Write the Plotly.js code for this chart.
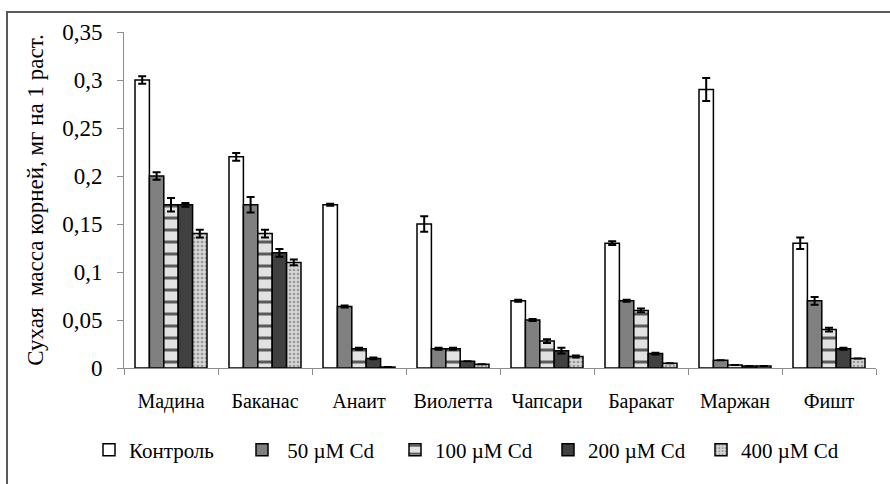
<!DOCTYPE html>
<html>
<head>
<meta charset="utf-8">
<script src="https://cdn.plot.ly/plotly-3.0.1.min.js"></script>
<style>html,body{margin:0;padding:0;background:#fff;}#chart{width:890px;height:484px;}</style>
</head>
<body>
<div id="chart"></div>
<script>
const categories = ["Мадина", "Баканас", "Анаит", "Виолетта", "Чапсари", "Баракат", "Маржан", "Фишт"];
const seriesNames = ["Контроль", " 50 µM Cd", "100 µM Cd", "200 µM Cd", "400 µM Cd"];
const control = [0.300, 0.220, 0.170, 0.150, 0.070, 0.130, 0.290, 0.130];
const cd50    = [0.200, 0.170, 0.064, 0.020, 0.050, 0.070, 0.008, 0.070];
const cd100   = [0.170, 0.140, 0.020, 0.020, 0.028, 0.060, 0.003, 0.040];
const cd200   = [0.170, 0.120, 0.010, 0.007, 0.018, 0.015, 0.002, 0.020];
const cd400   = [0.140, 0.110, 0.001, 0.004, 0.012, 0.005, 0.002, 0.010];
const errControl = [0.004, 0.004, 0.001, 0.008, 0.001, 0.002, 0.012, 0.006];
const err50      = [0.004, 0.008, 0.001, 0.001, 0.001, 0.001, 0.000, 0.004];
const err100     = [0.007, 0.004, 0.001, 0.001, 0.002, 0.002, 0.000, 0.002];
const err200     = [0.002, 0.004, 0.001, 0.000, 0.003, 0.001, 0.000, 0.001];
const err400     = [0.004, 0.003, 0.000, 0.000, 0.001, 0.000, 0.000, 0.000];
const yTickVals = [0, 0.05, 0.1, 0.15, 0.2, 0.25, 0.3, 0.35];

const serif = "Liberation Serif, Times New Roman, serif";
const values = [control, cd50, cd100, cd200, cd400];
const errs = [errControl, err50, err100, err200, err400];
const fills = [
  {color: "#ffffff"},
  {color: "#808080"},
  {color: "#d8d8d8", pattern: {shape: "-", fgcolor: "#5a5a5a", bgcolor: "#e2e2e2", size: 12, solidity: 0.25}},
  {color: "#404040"},
  {color: "#cfcfcf", pattern: {shape: ".", fgcolor: "#9a9a9a", bgcolor: "#d6d6d6", size: 4, solidity: 0.35}}
];

const traces = values.map((v, i) => ({
  type: "bar",
  name: seriesNames[i],
  x: categories,
  y: v,
  error_y: {type: "data", array: errs[i], visible: true, color: "#000", thickness: 2, width: 4},
  marker: Object.assign({line: {color: "#000", width: 1.5}}, fills[i]),
  hoverinfo: "skip"
}));

const L = 124, R = 876, T = 32, B = 368;
const px = x => (x - L) / (R - L);
const py = y => (B - y) / (B - T);

const layout = {
  width: 890, height: 484,
  margin: {l: L, r: 890 - R, t: T, b: 484 - B, pad: 0},
  paper_bgcolor: "#fff", plot_bgcolor: "#fff",
  separators: ", ",
  barmode: "group",
  bargap: 0.234,
  bargroupgap: 0,
  font: {family: serif, color: "#000", size: 20},
  xaxis: {
    type: "category",
    showline: true, linecolor: "#8c8c8c", linewidth: 1,
    ticks: "outside", tickson: "boundaries", ticklen: 6, tickcolor: "#8c8c8c",
    showgrid: false, zeroline: false,
    tickfont: {family: serif, size: 20, color: "#000"},
    ticklabelstandoff: 15
  },
  yaxis: {
    range: [0, 0.35],
    tickvals: yTickVals,
    showline: true, linecolor: "#8c8c8c", linewidth: 1,
    ticks: "outside", ticklen: 6, tickcolor: "#8c8c8c",
    showgrid: false, zeroline: false,
    tickfont: {family: serif, size: 23, color: "#000"},
    ticklabelstandoff: 10,
    title: {text: "Сухая  масса корней, мг на 1 раст.", font: {family: serif, size: 23, color: "#000"}, standoff: 12}
  },
  legend: {
    orientation: "h",
    x: px(89), xanchor: "left",
    y: py(450), yanchor: "middle",
    font: {family: serif, size: 21, color: "#000"},
    entrywidth: 108, entrywidthmode: "pixels",
    itemwidth: 30,
    bgcolor: "rgba(0,0,0,0)",
    traceorder: "normal"
  },
  shapes: [{
    type: "rect", xref: "paper", yref: "paper",
    x0: px(7), x1: px(900), y0: py(12), y1: py(500),
    line: {color: "#5a5a5a", width: 2}, fillcolor: "rgba(0,0,0,0)", layer: "below"
  }],
  showlegend: true
};

Plotly.newPlot("chart", traces, layout, {displayModeBar: false, staticPlot: true});
</script>
</body>
</html>
